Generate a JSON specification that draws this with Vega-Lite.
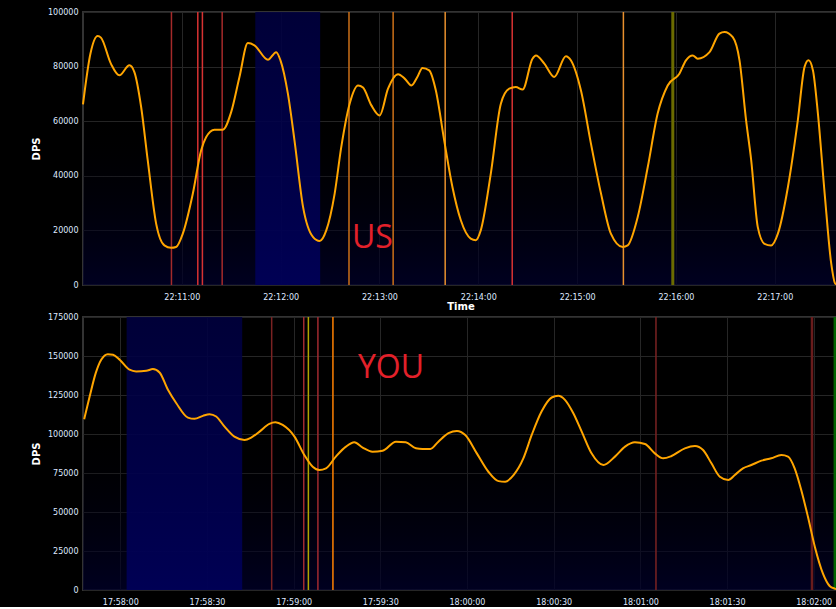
{
  "$schema": "https://vega.github.io/schema/vega-lite/v6.json",
  "background": "#000000",
  "padding": {"left": 30, "top": 7, "right": 0, "bottom": 0},
  "spacing": 0,
  "datasets": {
    "us": [
      {"t": "2020-01-01T22:10:00.000", "dps": 66200},
      {"t": "2020-01-01T22:10:04.500", "dps": 84700},
      {"t": "2020-01-01T22:10:08.900", "dps": 91200},
      {"t": "2020-01-01T22:10:10.900", "dps": 90600},
      {"t": "2020-01-01T22:10:17.000", "dps": 81000},
      {"t": "2020-01-01T22:10:22.100", "dps": 76800},
      {"t": "2020-01-01T22:10:28.200", "dps": 80500},
      {"t": "2020-01-01T22:10:31.200", "dps": 78000},
      {"t": "2020-01-01T22:10:35.300", "dps": 65200},
      {"t": "2020-01-01T22:10:39.300", "dps": 45700},
      {"t": "2020-01-01T22:10:44.400", "dps": 22500},
      {"t": "2020-01-01T22:10:49.400", "dps": 14500},
      {"t": "2020-01-01T22:10:53.500", "dps": 13600},
      {"t": "2020-01-01T22:10:56.500", "dps": 13900},
      {"t": "2020-01-01T22:11:00.600", "dps": 18800},
      {"t": "2020-01-01T22:11:06.700", "dps": 33500},
      {"t": "2020-01-01T22:11:11.700", "dps": 49300},
      {"t": "2020-01-01T22:11:14.800", "dps": 54200},
      {"t": "2020-01-01T22:11:19.800", "dps": 56900},
      {"t": "2020-01-01T22:11:24.900", "dps": 56900},
      {"t": "2020-01-01T22:11:30.000", "dps": 63400},
      {"t": "2020-01-01T22:11:35.000", "dps": 76200},
      {"t": "2020-01-01T22:11:40.100", "dps": 88600},
      {"t": "2020-01-01T22:11:44.100", "dps": 87800},
      {"t": "2020-01-01T22:11:52.300", "dps": 82500},
      {"t": "2020-01-01T22:11:57.300", "dps": 85300},
      {"t": "2020-01-01T22:11:59.900", "dps": 82300},
      {"t": "2020-01-01T22:12:04.400", "dps": 70100},
      {"t": "2020-01-01T22:12:08.400", "dps": 53000},
      {"t": "2020-01-01T22:12:13.600", "dps": 28600},
      {"t": "2020-01-01T22:12:19.600", "dps": 17600},
      {"t": "2020-01-01T22:12:23.700", "dps": 16100},
      {"t": "2020-01-01T22:12:27.700", "dps": 20000},
      {"t": "2020-01-01T22:12:32.800", "dps": 33500},
      {"t": "2020-01-01T22:12:36.800", "dps": 50500},
      {"t": "2020-01-01T22:12:41.900", "dps": 66400},
      {"t": "2020-01-01T22:12:47.000", "dps": 73100},
      {"t": "2020-01-01T22:12:50.000", "dps": 72300},
      {"t": "2020-01-01T22:12:55.100", "dps": 65800},
      {"t": "2020-01-01T22:13:00.100", "dps": 62100},
      {"t": "2020-01-01T22:13:05.200", "dps": 71900},
      {"t": "2020-01-01T22:13:11.300", "dps": 77200},
      {"t": "2020-01-01T22:13:15.300", "dps": 75600},
      {"t": "2020-01-01T22:13:19.400", "dps": 73100},
      {"t": "2020-01-01T22:13:23.000", "dps": 76200},
      {"t": "2020-01-01T22:13:26.100", "dps": 79500},
      {"t": "2020-01-01T22:13:30.200", "dps": 78600},
      {"t": "2020-01-01T22:13:34.200", "dps": 71300},
      {"t": "2020-01-01T22:13:39.300", "dps": 53000},
      {"t": "2020-01-01T22:13:44.300", "dps": 35900},
      {"t": "2020-01-01T22:13:49.400", "dps": 23700},
      {"t": "2020-01-01T22:13:55.400", "dps": 17000},
      {"t": "2020-01-01T22:13:58.500", "dps": 16400},
      {"t": "2020-01-01T22:14:01.500", "dps": 20000},
      {"t": "2020-01-01T22:14:07.600", "dps": 40800},
      {"t": "2020-01-01T22:14:13.700", "dps": 66400},
      {"t": "2020-01-01T22:14:18.800", "dps": 71900},
      {"t": "2020-01-01T22:14:22.800", "dps": 72500},
      {"t": "2020-01-01T22:14:26.900", "dps": 71600},
      {"t": "2020-01-01T22:14:32.900", "dps": 82900},
      {"t": "2020-01-01T22:14:35.000", "dps": 84100},
      {"t": "2020-01-01T22:14:40.100", "dps": 81100},
      {"t": "2020-01-01T22:14:46.100", "dps": 76200},
      {"t": "2020-01-01T22:14:53.200", "dps": 83800},
      {"t": "2020-01-01T22:14:56.200", "dps": 82300},
      {"t": "2020-01-01T22:15:02.300", "dps": 71300},
      {"t": "2020-01-01T22:15:08.400", "dps": 51800},
      {"t": "2020-01-01T22:15:14.500", "dps": 33500},
      {"t": "2020-01-01T22:15:20.500", "dps": 18800},
      {"t": "2020-01-01T22:15:27.700", "dps": 13900},
      {"t": "2020-01-01T22:15:30.700", "dps": 14500},
      {"t": "2020-01-01T22:15:36.800", "dps": 24900},
      {"t": "2020-01-01T22:15:42.900", "dps": 43200},
      {"t": "2020-01-01T22:15:48.900", "dps": 62800},
      {"t": "2020-01-01T22:15:55.000", "dps": 73100},
      {"t": "2020-01-01T22:16:02.100", "dps": 77400},
      {"t": "2020-01-01T22:16:06.100", "dps": 82300},
      {"t": "2020-01-01T22:16:10.200", "dps": 84100},
      {"t": "2020-01-01T22:16:13.200", "dps": 82900},
      {"t": "2020-01-01T22:16:20.400", "dps": 85300},
      {"t": "2020-01-01T22:16:26.400", "dps": 92100},
      {"t": "2020-01-01T22:16:29.500", "dps": 92700},
      {"t": "2020-01-01T22:16:34.500", "dps": 90800},
      {"t": "2020-01-01T22:16:38.600", "dps": 82300},
      {"t": "2020-01-01T22:16:42.600", "dps": 60300},
      {"t": "2020-01-01T22:16:45.700", "dps": 45700},
      {"t": "2020-01-01T22:16:49.700", "dps": 21200},
      {"t": "2020-01-01T22:16:53.800", "dps": 15100},
      {"t": "2020-01-01T22:16:57.800", "dps": 14500},
      {"t": "2020-01-01T22:17:01.900", "dps": 18800},
      {"t": "2020-01-01T22:17:08.000", "dps": 35900},
      {"t": "2020-01-01T22:17:14.000", "dps": 60300},
      {"t": "2020-01-01T22:17:18.100", "dps": 79900},
      {"t": "2020-01-01T22:17:20.500", "dps": 82300},
      {"t": "2020-01-01T22:17:23.200", "dps": 78600},
      {"t": "2020-01-01T22:17:26.200", "dps": 62800},
      {"t": "2020-01-01T22:17:30.300", "dps": 33500},
      {"t": "2020-01-01T22:17:34.300", "dps": 7800},
      {"t": "2020-01-01T22:17:36.700", "dps": 500},
      {"t": "2020-01-01T22:17:38.400", "dps": 0}
    ],
    "you": [
      {"t": "2020-01-01T17:57:47.500", "dps": 109500},
      {"t": "2020-01-01T17:57:49.400", "dps": 124000},
      {"t": "2020-01-01T17:57:51.500", "dps": 139000},
      {"t": "2020-01-01T17:57:53.400", "dps": 147600},
      {"t": "2020-01-01T17:57:55.700", "dps": 151200},
      {"t": "2020-01-01T17:57:57.500", "dps": 150800},
      {"t": "2020-01-01T17:57:59.800", "dps": 147600},
      {"t": "2020-01-01T17:58:03.200", "dps": 141200},
      {"t": "2020-01-01T17:58:05.500", "dps": 140100},
      {"t": "2020-01-01T17:58:09.000", "dps": 140500},
      {"t": "2020-01-01T17:58:11.300", "dps": 141600},
      {"t": "2020-01-01T17:58:13.600", "dps": 139400},
      {"t": "2020-01-01T17:58:16.500", "dps": 128300},
      {"t": "2020-01-01T17:58:19.400", "dps": 119700},
      {"t": "2020-01-01T17:58:23.400", "dps": 110500},
      {"t": "2020-01-01T17:58:25.700", "dps": 109700},
      {"t": "2020-01-01T17:58:28.600", "dps": 111600},
      {"t": "2020-01-01T17:58:30.900", "dps": 112700},
      {"t": "2020-01-01T17:58:33.200", "dps": 111200},
      {"t": "2020-01-01T17:58:36.100", "dps": 104700},
      {"t": "2020-01-01T17:58:39.500", "dps": 98300},
      {"t": "2020-01-01T17:58:43.000", "dps": 96200},
      {"t": "2020-01-01T17:58:45.300", "dps": 97700},
      {"t": "2020-01-01T17:58:48.200", "dps": 101500},
      {"t": "2020-01-01T17:58:51.600", "dps": 106500},
      {"t": "2020-01-01T17:58:53.700", "dps": 107500},
      {"t": "2020-01-01T17:58:56.200", "dps": 105800},
      {"t": "2020-01-01T17:59:00.300", "dps": 98300},
      {"t": "2020-01-01T17:59:03.700", "dps": 86500},
      {"t": "2020-01-01T17:59:06.600", "dps": 79000},
      {"t": "2020-01-01T17:59:08.900", "dps": 76900},
      {"t": "2020-01-01T17:59:11.200", "dps": 78000},
      {"t": "2020-01-01T17:59:14.600", "dps": 85500},
      {"t": "2020-01-01T17:59:18.100", "dps": 91900},
      {"t": "2020-01-01T17:59:21.000", "dps": 94700},
      {"t": "2020-01-01T17:59:23.900", "dps": 91300},
      {"t": "2020-01-01T17:59:27.300", "dps": 88700},
      {"t": "2020-01-01T17:59:30.800", "dps": 89300},
      {"t": "2020-01-01T17:59:35.400", "dps": 95100},
      {"t": "2020-01-01T17:59:38.800", "dps": 94700},
      {"t": "2020-01-01T17:59:42.300", "dps": 90800},
      {"t": "2020-01-01T17:59:44.600", "dps": 90400},
      {"t": "2020-01-01T17:59:47.300", "dps": 90400},
      {"t": "2020-01-01T17:59:50.100", "dps": 95100},
      {"t": "2020-01-01T17:59:53.600", "dps": 100500},
      {"t": "2020-01-01T17:59:56.500", "dps": 102000},
      {"t": "2020-01-01T17:59:59.400", "dps": 99400},
      {"t": "2020-01-01T18:00:03.400", "dps": 87600},
      {"t": "2020-01-01T18:00:07.400", "dps": 75800},
      {"t": "2020-01-01T18:00:10.900", "dps": 69800},
      {"t": "2020-01-01T18:00:13.200", "dps": 69400},
      {"t": "2020-01-01T18:00:16.100", "dps": 73700},
      {"t": "2020-01-01T18:00:19.500", "dps": 84400},
      {"t": "2020-01-01T18:00:22.400", "dps": 99400},
      {"t": "2020-01-01T18:00:25.800", "dps": 114400},
      {"t": "2020-01-01T18:00:29.300", "dps": 123400},
      {"t": "2020-01-01T18:00:31.600", "dps": 124500},
      {"t": "2020-01-01T18:00:33.900", "dps": 121900},
      {"t": "2020-01-01T18:00:36.800", "dps": 113300},
      {"t": "2020-01-01T18:00:39.700", "dps": 101500},
      {"t": "2020-01-01T18:00:43.100", "dps": 87600},
      {"t": "2020-01-01T18:00:47.200", "dps": 80100},
      {"t": "2020-01-01T18:00:51.200", "dps": 85500},
      {"t": "2020-01-01T18:00:54.700", "dps": 91900},
      {"t": "2020-01-01T18:00:58.100", "dps": 94700},
      {"t": "2020-01-01T18:01:01.600", "dps": 93600},
      {"t": "2020-01-01T18:01:05.000", "dps": 87600},
      {"t": "2020-01-01T18:01:07.900", "dps": 84400},
      {"t": "2020-01-01T18:01:10.800", "dps": 85900},
      {"t": "2020-01-01T18:01:15.400", "dps": 90800},
      {"t": "2020-01-01T18:01:18.900", "dps": 92300},
      {"t": "2020-01-01T18:01:21.700", "dps": 89700},
      {"t": "2020-01-01T18:01:24.600", "dps": 81200},
      {"t": "2020-01-01T18:01:27.500", "dps": 72600},
      {"t": "2020-01-01T18:01:30.400", "dps": 70500},
      {"t": "2020-01-01T18:01:32.700", "dps": 73700},
      {"t": "2020-01-01T18:01:35.500", "dps": 78000},
      {"t": "2020-01-01T18:01:38.400", "dps": 80100},
      {"t": "2020-01-01T18:01:41.900", "dps": 82900},
      {"t": "2020-01-01T18:01:45.300", "dps": 84400},
      {"t": "2020-01-01T18:01:48.800", "dps": 86500},
      {"t": "2020-01-01T18:01:51.100", "dps": 85500},
      {"t": "2020-01-01T18:01:53.400", "dps": 78000},
      {"t": "2020-01-01T18:01:55.700", "dps": 64000},
      {"t": "2020-01-01T18:01:58.000", "dps": 46900},
      {"t": "2020-01-01T18:02:00.400", "dps": 27600},
      {"t": "2020-01-01T18:02:03.200", "dps": 10500},
      {"t": "2020-01-01T18:02:05.500", "dps": 2600},
      {"t": "2020-01-01T18:02:07.300", "dps": 900},
      {"t": "2020-01-01T18:02:08.400", "dps": 400}
    ],
    "usEvents": [
      {"t": "2020-01-01T22:10:53.700", "kind": "A"},
      {"t": "2020-01-01T22:11:09.700", "kind": "B"},
      {"t": "2020-01-01T22:11:12.500", "kind": "B"},
      {"t": "2020-01-01T22:11:24.500", "kind": "A"},
      {"t": "2020-01-01T22:12:41.500", "kind": "C"},
      {"t": "2020-01-01T22:13:08.300", "kind": "C"},
      {"t": "2020-01-01T22:13:39.900", "kind": "D"},
      {"t": "2020-01-01T22:14:20.600", "kind": "B"},
      {"t": "2020-01-01T22:15:28.100", "kind": "D"},
      {"t": "2020-01-01T22:15:58.100", "kind": "E"}
    ],
    "youEvents": [
      {"t": "2020-01-01T17:58:52.400", "kind": "F"},
      {"t": "2020-01-01T17:59:03.500", "kind": "G"},
      {"t": "2020-01-01T17:59:05.100", "kind": "H"},
      {"t": "2020-01-01T17:59:08.400", "kind": "G"},
      {"t": "2020-01-01T17:59:13.600", "kind": "I"},
      {"t": "2020-01-01T18:01:05.400", "kind": "F"},
      {"t": "2020-01-01T18:01:59.400", "kind": "K"},
      {"t": "2020-01-01T18:02:07.300", "kind": "J"}
    ],
    "usBg": [
      {"start": "2020-01-01T22:10:00.000", "end": "2020-01-01T22:17:38.400", "lo": 0, "hi": 100000}
    ],
    "youBg": [
      {"start": "2020-01-01T17:57:47.100", "end": "2020-01-01T18:02:08.400", "lo": 0, "hi": 175000}
    ],
    "usBands": [
      {"start": "2020-01-01T22:11:44.600", "end": "2020-01-01T22:12:24.000", "lo": 0, "hi": 100000}
    ],
    "youBands": [
      {"start": "2020-01-01T17:58:02.200", "end": "2020-01-01T17:58:42.200", "lo": 0, "hi": 175000}
    ],
    "usLabel": [
      {"t": "2020-01-01T22:12:55.700", "dps": 17100, "label": "US"}
    ],
    "youLabel": [
      {"t": "2020-01-01T17:59:33.700", "dps": 142300, "label": "YOU"}
    ]
  },
  "vconcat": [
    {
      "width": 755,
      "height": 273,
      "layer": [
        {
          "data": {"name": "usBg"},
          "mark": {"type": "rect", "fill": {"gradient": "linear", "x1": 0, "y1": 0, "x2": 0, "y2": 1, "stops": [{"offset": 0, "color": "rgba(0,0,0,0)"}, {"offset": 0.35, "color": "rgba(0,0,0,0)"}, {"offset": 1, "color": "rgba(0,0,40,0.8)"}]}},
          "encoding": {
            "x": {"field": "start", "type": "temporal", "title": "Time",
                  "scale": {"domain": ["2020-01-01T22:10:00.000", "2020-01-01T22:17:38.400"]},
                  "axis": {"format": "%H:%M:%S", "titlePadding": 0,
                           "values": [
                             {"year": 2020, "month": 1, "date": 1, "hours": 22, "minutes": 11},
                             {"year": 2020, "month": 1, "date": 1, "hours": 22, "minutes": 12},
                             {"year": 2020, "month": 1, "date": 1, "hours": 22, "minutes": 13},
                             {"year": 2020, "month": 1, "date": 1, "hours": 22, "minutes": 14},
                             {"year": 2020, "month": 1, "date": 1, "hours": 22, "minutes": 15},
                             {"year": 2020, "month": 1, "date": 1, "hours": 22, "minutes": 16},
                             {"year": 2020, "month": 1, "date": 1, "hours": 22, "minutes": 17}
                           ]}},
            "x2": {"field": "end"},
            "y": {"field": "lo", "type": "quantitative", "title": "DPS",
                  "scale": {"domain": [0, 100000], "nice": false},
                  "axis": {"values": [0, 20000, 40000, 60000, 80000, 100000], "format": "d", "tickCount": 6}},
            "y2": {"field": "hi"}
          }
        },
        {
          "data": {"name": "usBands"},
          "mark": {"type": "rect", "opacity": 0.9, "fill": {"gradient": "linear", "x1": 0, "y1": 0, "x2": 0, "y2": 1, "stops": [{"offset": 0, "color": "#00003e"}, {"offset": 1, "color": "#00005a"}]}},
          "encoding": {
            "x": {"field": "start", "type": "temporal"},
            "x2": {"field": "end"},
            "y": {"field": "lo", "type": "quantitative"},
            "y2": {"field": "hi"}
          }
        },
        {
          "data": {"name": "usEvents"},
          "transform": [{"filter": "datum.kind !== 'E'"}],
          "mark": {"type": "rule", "strokeWidth": 1.5},
          "encoding": {
            "x": {"field": "t", "type": "temporal"},
            "color": {"field": "kind", "type": "nominal", "legend": null,
                      "scale": {"domain": ["A", "B", "C", "D", "E", "F", "G", "H", "I", "J", "K"], "range": ["#a52a2a", "#d83232", "#cc7018", "#e8902e", "#6b6b00", "#7a2222", "#a02a30", "#b0a400", "#ff8000", "#006400", "#6a1c1c"]}}
          }
        },
        {
          "data": {"name": "usEvents"},
          "transform": [{"filter": "datum.kind === 'E'"}],
          "mark": {"type": "rule", "strokeWidth": 3},
          "encoding": {
            "x": {"field": "t", "type": "temporal"},
            "color": {"field": "kind", "type": "nominal", "legend": null}
          }
        },
        {
          "data": {"name": "us"},
          "mark": {"type": "line", "color": "#ffa500", "strokeWidth": 2, "interpolate": "monotone"},
          "encoding": {
            "x": {"field": "t", "type": "temporal"},
            "y": {"field": "dps", "type": "quantitative", "title": "DPS",
                  "axis": {"values": [0, 20000, 40000, 60000, 80000, 100000], "format": "d", "tickCount": 6}}
          }
        },
        {
          "data": {"name": "usLabel"},
          "mark": {"type": "text", "font": "Open Sans", "fontSize": 32, "color": "#e3202a", "align": "center", "baseline": "middle"},
          "encoding": {
            "x": {"field": "t", "type": "temporal"},
            "y": {"field": "dps", "type": "quantitative"},
            "text": {"field": "label"}
          }
        }
      ]
    },
    {
      "width": 755,
      "height": 273,
      "layer": [
        {
          "data": {"name": "youBg"},
          "mark": {"type": "rect", "fill": {"gradient": "linear", "x1": 0, "y1": 0, "x2": 0, "y2": 1, "stops": [{"offset": 0, "color": "rgba(0,0,0,0)"}, {"offset": 0.35, "color": "rgba(0,0,0,0)"}, {"offset": 1, "color": "rgba(0,0,40,0.8)"}]}},
          "encoding": {
            "x": {"field": "start", "type": "temporal", "title": null,
                  "scale": {"domain": ["2020-01-01T17:57:47.100", "2020-01-01T18:02:08.400"]},
                  "axis": {"format": "%H:%M:%S",
                           "values": [
                             {"year": 2020, "month": 1, "date": 1, "hours": 17, "minutes": 58, "seconds": 0},
                             {"year": 2020, "month": 1, "date": 1, "hours": 17, "minutes": 58, "seconds": 30},
                             {"year": 2020, "month": 1, "date": 1, "hours": 17, "minutes": 59, "seconds": 0},
                             {"year": 2020, "month": 1, "date": 1, "hours": 17, "minutes": 59, "seconds": 30},
                             {"year": 2020, "month": 1, "date": 1, "hours": 18, "minutes": 0, "seconds": 0},
                             {"year": 2020, "month": 1, "date": 1, "hours": 18, "minutes": 0, "seconds": 30},
                             {"year": 2020, "month": 1, "date": 1, "hours": 18, "minutes": 1, "seconds": 0},
                             {"year": 2020, "month": 1, "date": 1, "hours": 18, "minutes": 1, "seconds": 30},
                             {"year": 2020, "month": 1, "date": 1, "hours": 18, "minutes": 2, "seconds": 0}
                           ]}},
            "x2": {"field": "end"},
            "y": {"field": "lo", "type": "quantitative", "title": "DPS",
                  "scale": {"domain": [0, 175000], "nice": false},
                  "axis": {"values": [0, 25000, 50000, 75000, 100000, 125000, 150000, 175000], "format": "d", "tickCount": 8}},
            "y2": {"field": "hi"}
          }
        },
        {
          "data": {"name": "youBands"},
          "mark": {"type": "rect", "opacity": 0.9, "fill": {"gradient": "linear", "x1": 0, "y1": 0, "x2": 0, "y2": 1, "stops": [{"offset": 0, "color": "#00003e"}, {"offset": 1, "color": "#00005a"}]}},
          "encoding": {
            "x": {"field": "start", "type": "temporal"},
            "x2": {"field": "end"},
            "y": {"field": "lo", "type": "quantitative"},
            "y2": {"field": "hi"}
          }
        },
        {
          "data": {"name": "youEvents"},
          "transform": [{"filter": "datum.kind !== 'K' && datum.kind !== 'J'"}],
          "mark": {"type": "rule", "strokeWidth": 1.5},
          "encoding": {
            "x": {"field": "t", "type": "temporal"},
            "color": {"field": "kind", "type": "nominal", "legend": null,
                      "scale": {"domain": ["A", "B", "C", "D", "E", "F", "G", "H", "I", "J", "K"], "range": ["#a52a2a", "#d83232", "#cc7018", "#e8902e", "#6b6b00", "#7a2222", "#a02a30", "#b0a400", "#ff8000", "#006400", "#6a1c1c"]}}
          }
        },
        {
          "data": {"name": "youEvents"},
          "transform": [{"filter": "datum.kind === 'K' || datum.kind === 'J'"}],
          "mark": {"type": "rule", "strokeWidth": 2.5},
          "encoding": {
            "x": {"field": "t", "type": "temporal"},
            "color": {"field": "kind", "type": "nominal", "legend": null}
          }
        },
        {
          "data": {"name": "you"},
          "mark": {"type": "line", "color": "#ffa500", "strokeWidth": 2, "interpolate": "monotone"},
          "encoding": {
            "x": {"field": "t", "type": "temporal"},
            "y": {"field": "dps", "type": "quantitative", "title": "DPS",
                  "axis": {"values": [0, 25000, 50000, 75000, 100000, 125000, 150000, 175000], "format": "d", "tickCount": 8}}
          }
        },
        {
          "data": {"name": "youLabel"},
          "mark": {"type": "text", "font": "Open Sans", "fontSize": 32, "color": "#e3202a", "align": "center", "baseline": "middle"},
          "encoding": {
            "x": {"field": "t", "type": "temporal"},
            "y": {"field": "dps", "type": "quantitative"},
            "text": {"field": "label"}
          }
        }
      ]
    }
  ],
  "resolve": {"scale": {"x": "independent", "y": "independent"}},
  "config": {
    "view": {"stroke": "#333333", "strokeWidth": 2},
    "axis": {
      "domain": false, "ticks": false, "grid": true, "gridColor": "#262626", "gridWidth": 1,
      "labelColor": "#dfe8ff", "labelFont": "DejaVu Sans", "labelFontSize": 8, "labelOverlap": false,
      "titleColor": "#ffffff", "titleFont": "DejaVu Sans", "titleFontSize": 10, "titleFontWeight": "bold"
    },
    "axisY": {"labelPadding": 5, "titlePadding": 6},
    "axisX": {"labelPadding": 8, "labelFlush": false}
  }
}
